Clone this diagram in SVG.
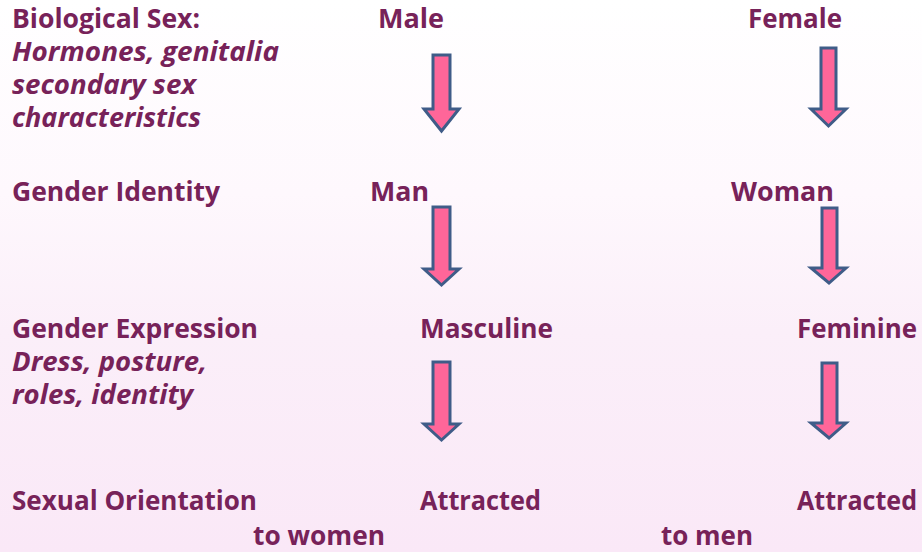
<svg xmlns="http://www.w3.org/2000/svg" width="922" height="552" viewBox="0 0 922 552">
<defs>
<linearGradient id="bg" x1="0" y1="0" x2="0" y2="1">
<stop offset="0" stop-color="#FFFFFF"/>
<stop offset="0.35" stop-color="#FEF8FD"/>
<stop offset="0.6" stop-color="#FBEFF9"/>
<stop offset="1" stop-color="#FAE8F7"/>
</linearGradient>
<style>
text{font-family:"Open Sans","Lato","Liberation Sans",sans-serif;font-weight:bold;font-size:26px;fill:#772259}
.it{font-style:italic}
.arrow{fill:#FF6699;stroke:#3F5C88;stroke-width:3;stroke-linejoin:miter}
</style>
</defs>
<rect width="922" height="552" fill="url(#bg)"/>
<g id="labels">
<text x="12" y="28" textLength="188" lengthAdjust="spacingAndGlyphs">Biological Sex:</text>
<text class="it" x="12" y="61" textLength="267" lengthAdjust="spacingAndGlyphs">Hormones, genitalia</text>
<text class="it" x="12" y="94" textLength="184" lengthAdjust="spacingAndGlyphs">secondary sex</text>
<text class="it" x="12" y="127" textLength="189" lengthAdjust="spacingAndGlyphs">characteristics</text>
<text x="12" y="201" textLength="208" lengthAdjust="spacingAndGlyphs">Gender Identity</text>
<text x="12" y="338" textLength="246" lengthAdjust="spacingAndGlyphs">Gender Expression</text>
<text class="it" x="12" y="371" textLength="195" lengthAdjust="spacingAndGlyphs">Dress, posture,</text>
<text class="it" x="12" y="404" textLength="181" lengthAdjust="spacingAndGlyphs">roles, identity</text>
<text x="12" y="510" textLength="245" lengthAdjust="spacingAndGlyphs">Sexual Orientation</text>
</g>
<g id="node-male"><text x="378" y="28" textLength="66" lengthAdjust="spacingAndGlyphs">Male</text></g>
<g id="node-female"><text x="748" y="28" textLength="94" lengthAdjust="spacingAndGlyphs">Female</text></g>
<g id="node-man"><text x="370" y="201" textLength="59" lengthAdjust="spacingAndGlyphs">Man</text></g>
<g id="node-woman"><text x="731" y="201" textLength="103" lengthAdjust="spacingAndGlyphs">Woman</text></g>
<g id="node-masculine"><text x="420" y="338" textLength="133" lengthAdjust="spacingAndGlyphs">Masculine</text></g>
<g id="node-feminine"><text x="797" y="338" textLength="120" lengthAdjust="spacingAndGlyphs">Feminine</text></g>
<g id="node-attracted-women">
<text x="420" y="510" textLength="121" lengthAdjust="spacingAndGlyphs">Attracted</text>
<text x="253" y="545" textLength="132" lengthAdjust="spacingAndGlyphs">to women</text>
</g>
<g id="node-attracted-men">
<text x="797" y="510" textLength="120" lengthAdjust="spacingAndGlyphs">Attracted</text>
<text x="661" y="545" textLength="92" lengthAdjust="spacingAndGlyphs">to men</text>
</g>
<g id="connectors">
<polygon class="arrow" points="433,55 450,55 450,109 459,109 441.5,131 424,109 433,109"/>
<polygon class="arrow" points="821,48 836,48 836,109 846,109 828.5,126 811,109 821,109"/>
<polygon class="arrow" points="433,207 450,207 450,269 459,269 441.5,285 424,269 433,269"/>
<polygon class="arrow" points="822,208 837,208 837,268 846,268 829,283 811,268 822,268"/>
<polygon class="arrow" points="433,362 450,362 450,424 459,424 441.5,440 424,424 433,424"/>
<polygon class="arrow" points="822,363 837,363 837,423 846,423 829,438 811,423 822,423"/>
</g>
</svg>
